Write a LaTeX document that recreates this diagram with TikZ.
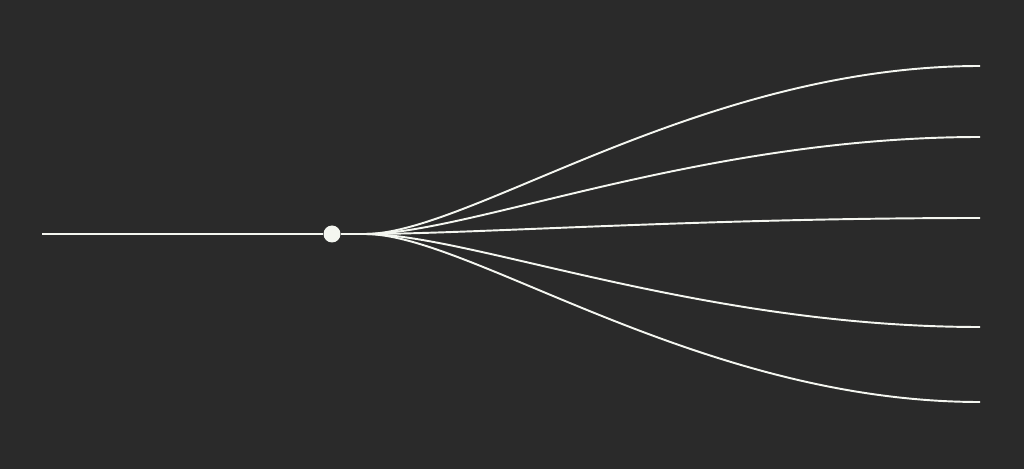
\documentclass[tikz,border=0pt]{standalone}
\usepackage{tikz}
\definecolor{bgcol}{HTML}{2A2A2A}
\definecolor{linecol}{HTML}{F4F6F0}
\begin{document}
\begin{tikzpicture}[x=0.02cm, y=-0.02cm]
      \tikzstyle{STY1} = [circle, fill=linecol, draw=none, inner sep=0pt, minimum size=17*0.02cm]
      \tikzstyle{STY2} = [draw=linecol, line width=1.1pt]

      \fill[bgcol] (0,0) rectangle (1024,469);
      \useasboundingbox (0,0) rectangle (1024,469);

      %%%%% VERTEX

      \coordinate (s) at (42, 234);
      \node[STY1](d) at (332, 234) {};
      \coordinate (f) at (365, 234);

      \coordinate (e1) at (980, 66);
      \coordinate (e2) at (980, 137);
      \coordinate (e3) at (980, 218);
      \coordinate (e4) at (980, 327);
      \coordinate (e5) at (980, 402);

      %%%%% EDGES
      \draw[STY2]  (s) -- (d.west);
      \draw[STY2]  (d.east) -- (f);

      \draw[STY2]  (f) .. controls +(105,0) and +(-280,0) .. (e1);
      \draw[STY2]  (f) .. controls +(105,0) and +(-280,0) .. (e2);
      \draw[STY2]  (f) .. controls +(105,0) and +(-280,0) .. (e3);
      \draw[STY2]  (f) .. controls +(105,0) and +(-280,0) .. (e4);
      \draw[STY2]  (f) .. controls +(105,0) and +(-280,0) .. (e5);
    \end{tikzpicture}
\end{document}
